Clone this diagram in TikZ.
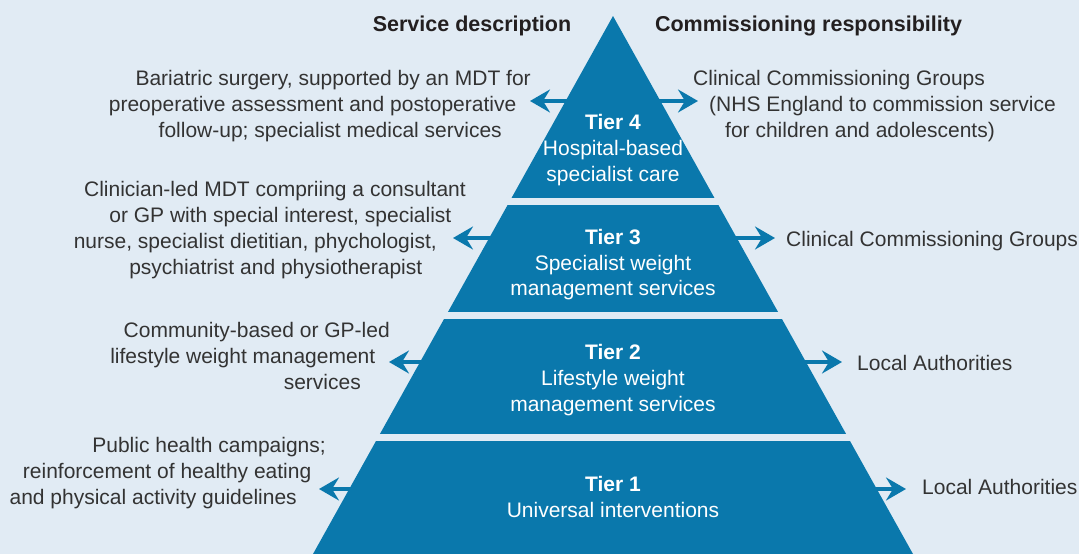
\documentclass[tikz,border=0pt]{standalone}
\usepackage{fontspec}
\setmainfont{Liberation Sans}
\usepackage{tikz}
\usetikzlibrary{arrows.meta}
\definecolor{bgblue}{HTML}{E1EBF4}
\definecolor{tierblue}{HTML}{0A78AC}
\definecolor{txtgrey}{HTML}{333333}
\definecolor{hdrgrey}{HTML}{231F20}
\tikzset{
  svc/.style={anchor=base east,inner sep=0pt,text=txtgrey,font=\fontsize{21}{26}\selectfont},
  com/.style={svc,anchor=base west},
  tiertxt/.style={anchor=base,inner sep=0pt,text=white,font=\fontsize{21}{26}\selectfont},
  tiername/.style={tiertxt,font=\fontsize{21}{26}\selectfont\bfseries},
  hdr/.style={anchor=base,inner sep=0pt,text=hdrgrey,font=\fontsize{21.5}{26}\selectfont\bfseries},
  link/.style={draw=tierblue,line width=4pt,-{Stealth[length=20pt,width=23pt,inset=7pt]}}
}
\begin{document}
\begin{tikzpicture}[x=1pt,y=-1pt]
\fill[bgblue] (0,0) rectangle (1079,554);
% pyramid
\begin{scope}
\clip (613,16) -- (313,554) -- (913,554) -- cycle;
\fill[tierblue] (0,16) rectangle (1079,198);
\fill[tierblue] (0,205) rectangle (1079,312);
\fill[tierblue] (0,319) rectangle (1079,434);
\fill[tierblue] (0,441) rectangle (1079,554);
\end{scope}
% headings
\node[hdr] (hsd) at (472,31) {Service description};
\node[hdr] (hcr) at (808.5,31) {Commissioning responsibility};
% tier labels
\node[tiername] (t4a) at (613,129) {Tier 4};
\node[tiertxt] (t4b) at (613,155) {Hospital-based};
\node[tiertxt] (t4c) at (613,181) {specialist care};
\node[tiername] (t3a) at (613,244) {Tier 3};
\node[tiertxt] (t3b) at (613,270) {Specialist weight};
\node[tiertxt] (t3c) at (613,295) {management services};
\node[tiername] (t2a) at (613,359) {Tier 2};
\node[tiertxt] (t2b) at (613,385) {Lifestyle weight};
\node[tiertxt] (t2c) at (613,411) {management services};
\node[tiername] (t1a) at (613,491) {Tier 1};
\node[tiertxt] (t1b) at (613,517) {Universal interventions};
% service description
\node[svc] (s4a) at (531,85) {Bariatric surgery, supported by an MDT for};
\node[svc] (s4b) at (516.5,111) {preoperative assessment and postoperative};
\node[svc] (s4c) at (502,137) {follow-up; specialist medical services};
\node[svc] (s3a) at (466,196) {Clinician-led MDT compriing a consultant};
\node[svc] (s3b) at (451.5,222) {or GP with special interest, specialist};
\node[svc] (s3c) at (437,248) {nurse, specialist dietitian, phychologist,};
\node[svc] (s3d) at (422.5,274) {psychiatrist and physiotherapist};
\node[svc] (s2a) at (390,337) {Community-based or GP-led};
\node[svc] (s2b) at (375.5,363) {lifestyle weight management};
\node[svc] (s2c) at (361,389) {services};
\node[svc] (s1a) at (326,452) {Public health campaigns;};
\node[svc] (s1b) at (311.5,478) {reinforcement of healthy eating};
\node[svc] (s1c) at (297,504) {and physical activity guidelines};
% commissioning responsibility
\node[com] (c4a) at (693,85) {Clinical Commissioning Groups};
\node[com] (c4b) at (709,111) {(NHS England to commission service};
\node[com] (c4c) at (725,137) {for children and adolescents)};
\node[com] (c3a) at (786,246) {Clinical Commissioning Groups};
\node[com] (c2a) at (857,370) {Local Authorities};
\node[com] (c1a) at (922,494) {Local Authorities};
% arrows
\coordinate (l4s) at (568,101); \coordinate (l4e) at (530,101);
\coordinate (r4s) at (658,101); \coordinate (r4e) at (698,101);
\coordinate (l3s) at (492,238); \coordinate (l3e) at (453,238);
\coordinate (r3s) at (734,238); \coordinate (r3e) at (775,238);
\coordinate (l2s) at (424,362); \coordinate (l2e) at (389,362);
\coordinate (r2s) at (802,362); \coordinate (r2e) at (842,362);
\coordinate (l1s) at (354,489); \coordinate (l1e) at (319,489);
\coordinate (r1s) at (872,489); \coordinate (r1e) at (906,489);
\draw[link] (l4s) -- (l4e);
\draw[link] (r4s) -- (r4e);
\draw[link] (l3s) -- (l3e);
\draw[link] (r3s) -- (r3e);
\draw[link] (l2s) -- (l2e);
\draw[link] (r2s) -- (r2e);
\draw[link] (l1s) -- (l1e);
\draw[link] (r1s) -- (r1e);
\end{tikzpicture}
\end{document}
